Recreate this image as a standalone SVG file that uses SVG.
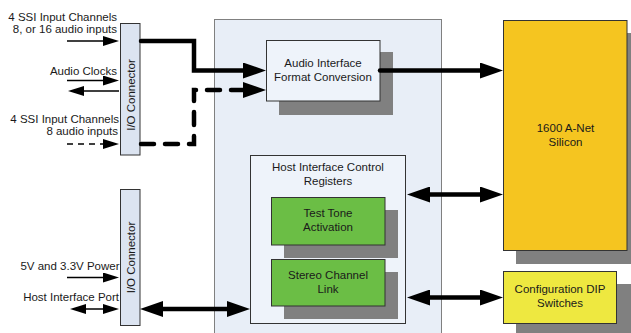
<svg xmlns="http://www.w3.org/2000/svg" width="631" height="333" viewBox="0 0 631 333">
<defs>
<style>
text{font-family:"Liberation Sans",Arial,sans-serif;font-size:11.5px;fill:#1a1a1a}
.c{text-anchor:middle}
.r{text-anchor:end}
.box{stroke:#333;stroke-width:1}
.sh{fill:#808080}
.thin{fill:none;stroke:#000;stroke-width:1.6}
.thick{fill:none;stroke:#000;stroke-width:4.5;stroke-linecap:round}
</style>
<marker id="ah" markerUnits="userSpaceOnUse" markerWidth="16" markerHeight="10" refX="8" refY="5" orient="auto-start-reverse"><path d="M0,0 L16,5 L0,10 z" fill="#000"/></marker>
<marker id="AH" markerUnits="userSpaceOnUse" markerWidth="24" markerHeight="16" refX="11" refY="8" orient="auto-start-reverse"><path d="M0,0 L23,8 L0,16 z" fill="#000"/></marker>
</defs>
<rect width="631" height="333" fill="#fff"/>
<g id="panel"><rect x="214.5" y="19.5" width="227" height="320" fill="#E8EEF7" stroke="#808080"/></g>
<g id="io1"><rect x="120.5" y="23.5" width="19.5" height="131.5" fill="#DCE4F1" stroke="#333"/><text class="c" transform="translate(134.5,95) rotate(-90)">I/O Connector</text></g>
<g id="io2"><rect x="120.5" y="189.5" width="19.5" height="136" fill="#DCE4F1" stroke="#333"/><text class="c" transform="translate(134.5,257.5) rotate(-90)">I/O Connector</text></g>
<g id="audioif"><rect class="sh" x="279" y="52" width="114" height="63"/><rect class="box" x="266.5" y="40.5" width="113.5" height="60.5" fill="#EEF3FA"/><text class="c" x="323" y="66.5">Audio Interface</text><text class="c" x="323" y="81">Format Conversion</text></g>
<g id="hostreg"><rect class="box" x="250.5" y="155.5" width="155" height="168" fill="#EEF3FA"/><text class="c" x="328" y="171">Host Interface Control</text><text class="c" x="328" y="185">Registers</text></g>
<g id="testtone"><rect class="sh" x="284" y="210" width="114" height="48"/><rect class="box" x="271.5" y="197.5" width="113.5" height="47.5" fill="#6BBE45"/><text class="c" x="328" y="216.5">Test Tone</text><text class="c" x="328" y="231">Activation</text></g>
<g id="stereo"><rect class="sh" x="284" y="272" width="114" height="47"/><rect class="box" x="271.5" y="259.5" width="113.5" height="46.5" fill="#6BBE45"/><text class="c" x="328" y="279">Stereo Channel</text><text class="c" x="328" y="292.5">Link</text></g>
<g id="anet"><rect class="sh" x="516" y="33" width="124" height="231"/><rect class="box" x="503.5" y="20.5" width="123.5" height="230" fill="#F5C520"/><text class="c" x="565.5" y="131.5">1600 A-Net</text><text class="c" x="565.5" y="145.5">Silicon</text></g>
<g id="dip"><rect class="sh" x="516" y="284" width="124" height="56"/><rect class="box" x="503.5" y="271.5" width="113" height="52" fill="#EEE840"/><text class="c" x="560" y="293">Configuration DIP</text><text class="c" x="560" y="307">Switches</text></g>
<g id="labels">
<text class="r" x="117" y="20.5">4 SSI Input Channels</text>
<text class="r" x="117" y="33">8, or 16 audio inputs</text>
<text class="r" x="117" y="74.5">Audio Clocks</text>
<text class="r" x="119" y="123">4 SSI Input Channels</text>
<text class="r" x="118" y="135">8 audio inputs</text>
<text class="r" x="119.5" y="270">5V and 3.3V Power</text>
<text class="r" x="119" y="300.5">Host Interface Port</text>
</g>
<g id="connectors">
<path class="thin" d="M67,41 H111" marker-end="url(#ah)"/>
<path class="thin" d="M67,80.5 H111" marker-end="url(#ah)"/>
<path class="thin" d="M119,91 H76" marker-end="url(#ah)"/>
<path class="thin" d="M67,144 H111" stroke-dasharray="6 5" marker-end="url(#ah)"/>
<path class="thin" d="M67,277.5 H111" marker-end="url(#ah)"/>
<path class="thin" d="M78,309 H111" marker-start="url(#ah)" marker-end="url(#ah)"/>
<path class="thick" d="M141,41 H194 V70.5 H254" stroke-linejoin="miter" marker-end="url(#AH)"/>
<path class="thick" d="M141,144 H194 V90 H254" stroke-dasharray="13 11" marker-end="url(#AH)"/>
<path class="thick" d="M380,70.5 H491" marker-end="url(#AH)"/>
<path class="thick" d="M419,194.5 H491" marker-start="url(#AH)" marker-end="url(#AH)"/>
<path class="thick" d="M419,297.5 H491" marker-start="url(#AH)" marker-end="url(#AH)"/>
<path class="thick" d="M152,309 H238" marker-start="url(#AH)" marker-end="url(#AH)"/>
</g>
</svg>
